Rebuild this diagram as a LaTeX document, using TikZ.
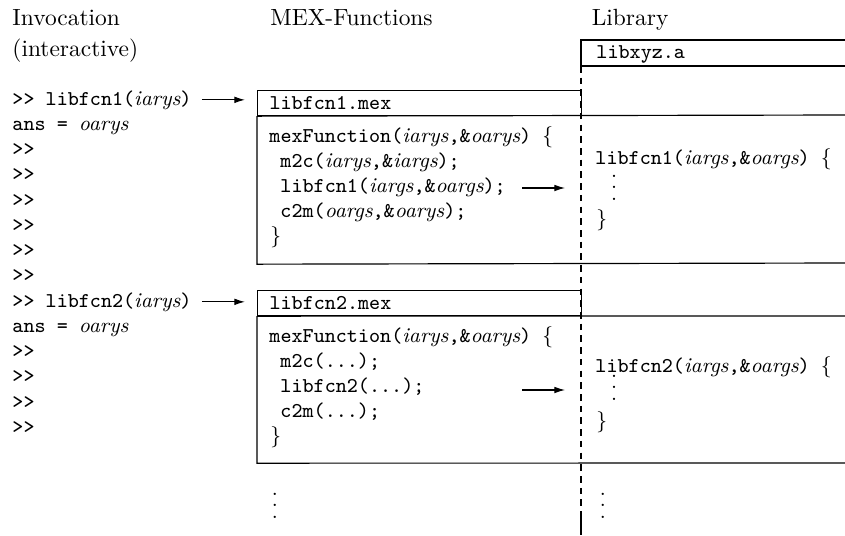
\documentclass[tikz,border=0pt]{standalone}
\usepackage{tikz}
\usetikzlibrary{positioning,calc,arrows.meta}

\newcommand{\va}[1]{{\normalfont\itshape #1}}
\newcommand{\vdd}{{\normalfont\vbox{\baselineskip=4.9pt \lineskiplimit=0pt \hbox{.}\hbox{.}\hbox{.}}}}

\tikzset{
  head/.style={anchor=base west, inner sep=0pt},
  code/.style={anchor=base west, inner sep=0pt, font=\small\ttfamily},
  mexhead/.style={draw, line width=0.5pt, anchor=north west, minimum width=4.86cm,
    minimum height=0.375cm, inner xsep=0.18cm, inner ysep=0pt, text width=4.5cm,
    align=left, font=\small\ttfamily},
  call/.style={-{Latex[length=1.6mm,width=1mm]}, line width=0.45pt},
  frame/.style={line width=0.5pt}
}

\begin{document}
\begin{tikzpicture}
  \useasboundingbox (0,0) rectangle (12.675,-8.025);

  % Column heads
  \node[head] (hinv) at (0.18,-0.375) {Invocation};
  \node[head] (hint) at (0.18,-0.855) {(interactive)};
  \node[head] (hmex) at (4.05,-0.375) {MEX-Functions};
  \node[head] (hlib) at (8.87,-0.375) {Library};

  % Library archive and its border
  \draw[frame] (12.675,-0.6) -- (8.715,-0.6) -- (8.715,-0.99) -- (12.675,-0.99);
  \node[code] (libxyz) at (8.94,-0.87) {libxyz.a};
  \draw[frame, dash pattern=on 2.8pt off 2.2pt] (8.715,-0.99) -- (8.715,-7.68);
  \draw[frame] (8.715,-7.68) -- (8.715,-8.025);

  % Interactive session
  \node[code] (call1) at (0.18,-1.575) {>> libfcn1(\va{iarys})};
  \node[code] (ans1) at (0.18,-1.954) {ans = \va{oarys}};
  \foreach \k in {2,...,7}
    \node[code] (p\k) at (0.18,{-1.575-0.379*\k}) {>>};
  \node[code] (call2) at (0.18,-4.605) {>> libfcn2(\va{iarys})};
  \node[code] (ans2) at (0.18,-4.986) {ans = \va{oarys}};
  \foreach \k in {10,...,13}
    \node[code] (p\k) at (0.18,{-1.575-0.379*\k}) {>>};

  % First MEX-file
  \node[mexhead] (mex1) at (3.855,-1.35) {libfcn1.mex};
  \draw[frame] (mex1.south west) -- ++(0,-2.22) -- (12.675,-3.945);
  \draw[frame] (mex1.south west) -- (12.675,-1.725);
  \node[code] (mf1) at (4.035,-2.13) {mexFunction(\va{iarys},\&\va{oarys}) $\{$};
  \node[code] (mc1) at (4.2,-2.505) {m2c(\va{iarys},\&\va{iargs});};
  \node[code] (lc1) at (4.2,-2.88) {libfcn1(\va{iargs},\&\va{oargs});};
  \node[code] (cm1) at (4.2,-3.255) {c2m(\va{oargs},\&\va{oarys});};
  \node[code] (ce1) at (4.05,-3.63) {$\}$};

  \node[code] (lf1) at (8.925,-2.46) {libfcn1(\va{iargs},\&\va{oargs}) $\{$};
  \node[code] (ld1) at (9.16,-3.0) {\vdd};
  \node[code] (le1) at (8.94,-3.375) {$\}$};

  \draw[call, shorten <=0.15cm, shorten >=0.18cm] (call1.east) -- (call1.east -| mex1.west);
  \coordinate (a1) at (7.83,-2.82);
  \draw[call, shorten >=0.45cm] (a1) -- (a1 -| lf1.west);

  % Second MEX-file
  \node[mexhead] (mex2) at (3.855,-4.35) {libfcn2.mex};
  \draw[frame] (mex2.south west) -- ++(0,-2.205) -- (12.675,-6.945);
  \draw[frame] (mex2.south west) -- (12.675,-4.74);
  \node[code] (mf2) at (4.035,-5.13) {mexFunction(\va{iarys},\&\va{oarys}) $\{$};
  \node[code] (mc2) at (4.2,-5.505) {m2c(...);};
  \node[code] (lc2) at (4.2,-5.88) {libfcn2(...);};
  \node[code] (cm2) at (4.2,-6.255) {c2m(...);};
  \node[code] (ce2) at (4.05,-6.63) {$\}$};

  \node[code] (lf2) at (8.925,-5.58) {libfcn2(\va{iargs},\&\va{oargs}) $\{$};
  \node[code] (ld2) at (9.16,-6.0) {\vdd};
  \node[code] (le2) at (8.94,-6.405) {$\}$};

  \draw[call, shorten <=0.15cm, shorten >=0.18cm] (call2.east) -- (call2.east -| mex2.west);
  \coordinate (a2) at (7.83,-5.85);
  \draw[call, shorten >=0.45cm] (a2) -- (a2 -| lf2.west);

  % More to follow
  \node[code] (mm) at (4.07,-7.77) {\vdd};
  \node[code] (lm) at (8.99,-7.77) {\vdd};
\end{tikzpicture}
\end{document}
